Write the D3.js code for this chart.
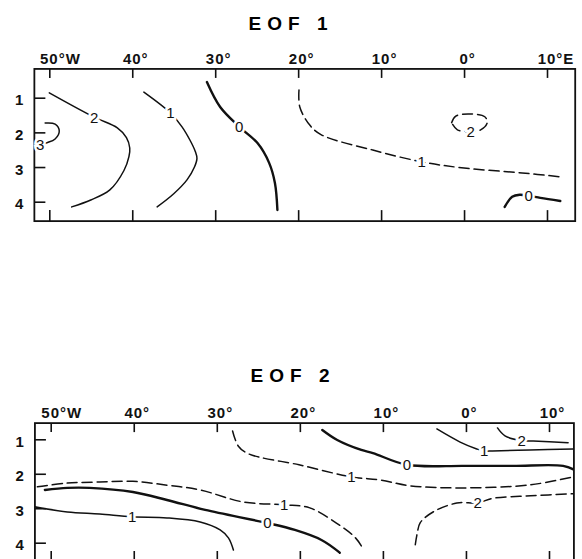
<!DOCTYPE html>
<html><head><meta charset="utf-8">
<script src="https://cdn.jsdelivr.net/npm/d3@7"></script>
<style>
html,body{margin:0;padding:0;background:#fff;}
svg{display:block;}
</style></head>
<body>
<script>
// ---------- data ----------
const LON_TICKS = [-50, -40, -30, -20, -10, 0, 10];
const LON_LABELS_1 = ["50°W", "40°", "30°", "20°", "10°", "0°", "10°E"];
const LON_LABELS_2 = ["50°W", "40°", "30°", "20°", "10°", "0°", "10°"];
const DEPTH_TICKS = [1, 2, 3, 4];
const DEPTH_LABELS = ["1", "2", "3", "4"];

// EOF 1 contours: [longitude (E positive), depth index]
const eof1_c2   = [[-50,0.86],[-44.6,1.56],[-41.8,1.87],[-40.7,2.15],[-40.3,2.45],[-40.4,2.7],[-41.0,3.1],[-42.7,3.66],[-45.0,3.95],[-47.3,4.15]];
const eof1_c3   = [[-50.5,1.73],[-49.3,1.76],[-48.8,1.96],[-49.3,2.19],[-50.3,2.3],[-51.1,2.36]];
const eof1_c1   = [[-38.6,0.84],[-35.4,1.44],[-34.0,1.84],[-33.05,2.22],[-32.4,2.55],[-32.2,2.75],[-32.5,3.0],[-33.4,3.37],[-35.0,3.77],[-37.0,4.15]];
const eof1_c0   = [[-31.0,0.55],[-29.4,1.27],[-27.1,1.84],[-24.9,2.31],[-23.5,2.88],[-22.8,3.46],[-22.5,4.24]];
const eof1_cm1  = [[-19.9,0.78],[-19.8,1.27],[-18.6,1.79],[-17.2,2.07],[-11.0,2.51],[-5.1,2.85],[0,3.03],[7.0,3.17],[11.9,3.29]];
const eof1_cm2  = [[-1.5,1.72],[-1.0,1.53],[0.7,1.47],[2.5,1.55],[2.8,1.72],[2.0,1.93],[0.8,1.97],[-0.8,1.93],[-1.5,1.72]];
const eof1_c0b  = [[4.9,4.15],[5.8,3.86],[6.7,3.80],[7.8,3.83],[9.2,3.89],[11.6,3.98]];

const eof1Values = [2, 3, 1, 0, -1, -2, 0];
const eof1Lines  = [eof1_c2, eof1_c3, eof1_c1, eof1_c0, eof1_cm1, eof1_cm2, eof1_c0b];
const eof1LabelAt = [[-44.6,1.56],[-51.1,2.36],[-35.4,1.44],[-27.1,1.84],[-5.1,2.85],[0.8,1.97],[7.8,3.83]];

// EOF 2 contours
const eof2_c1a  = [[-51.9,2.96],[-48.0,3.11],[-44.1,3.17],[-40.2,3.25],[-36.0,3.28],[-32.0,3.40],[-29.6,3.63],[-28.6,3.86],[-28.0,4.21]];
const eof2_c0a  = [[-50.7,2.47],[-48.0,2.41],[-45.3,2.41],[-40.1,2.53],[-36.0,2.76],[-31.4,3.05],[-23.9,3.43],[-20.6,3.63],[-17.4,3.92],[-15.2,4.29]];
const eof2_cm1a = [[-51.6,2.38],[-48.0,2.27],[-44.1,2.24],[-40.1,2.22],[-36.0,2.33],[-32.0,2.47],[-26.8,2.82],[-21.9,2.90],[-18.8,2.99],[-15.6,3.43],[-13.3,3.86],[-12.3,4.21]];
const eof2_cm1b = [[-28.1,0.76],[-27.4,1.20],[-26.2,1.42],[-20.1,1.74],[-13.8,2.09],[-10.3,2.18],[-6.7,2.35],[-0.3,2.41],[7.8,2.32],[12.9,2.09]];
const eof2_c0b  = [[-17.3,0.73],[-15.5,1.02],[-12.6,1.31],[-11.2,1.40],[-7.1,1.74],[-0.3,1.77],[5.7,1.77],[11.7,1.77],[13.1,1.89]];
const eof2_c1b  = [[-3.5,0.70],[-0.7,1.08],[1.3,1.28],[2.2,1.34],[3.2,1.34],[7.7,1.31],[12.9,1.28]];
const eof2_c2   = [[3.8,0.67],[4.7,0.90],[6.7,1.04],[8.1,1.05],[12.3,1.10]];
const eof2_cm2  = [[-6.1,4.06],[-5.9,3.77],[-5.5,3.42],[-3.9,3.10],[-1.1,2.85],[1.4,2.84],[3.3,2.71],[7.8,2.64],[12.9,2.58]];

const eof2Values = [1, 0, -1, -1, 0, 1, 2, -2];
const eof2Lines  = [eof2_c1a, eof2_c0a, eof2_cm1a, eof2_cm1b, eof2_c0b, eof2_c1b, eof2_c2, eof2_cm2];
const eof2LabelAt = [[-40.2,3.25],[-23.9,3.43],[-21.9,2.90],[-13.8,2.09],[-7.1,1.74],[2.2,1.34],[6.7,1.04],[1.4,2.84]];

// ---------- layout ----------
const W = 582, H = 559;
const FONT = "'Liberation Sans', Arial, sans-serif";
const svg = d3.select("body").append("svg").attr("width", W).attr("height", H);

const panels = [
  { title: "EOF 1", titleX: 291, titleY: 30, xr: [49.3, 547], yr: [97.7, 201.7],
    lonBox: [-51.8, 13.4], depBox: [0.17, 4.56], labels: LON_LABELS_1,
    lines: eof1Lines, values: eof1Values, labelAt: eof1LabelAt, id: "c1" },
  { title: "EOF 2", titleX: 293, titleY: 382, xr: [50.7, 549], yr: [439.3, 542.7],
    lonBox: [-51.9, 13.0], depBox: [0.53, 4.56], labels: LON_LABELS_2,
    lines: eof2Lines, values: eof2Values, labelAt: eof2LabelAt, id: "c2" }
];

panels.forEach(p => {
  const x = d3.scaleLinear().domain([-50, 10]).range(p.xr);
  const y = d3.scaleLinear().domain([1, 4]).range(p.yr);
  const L = x(p.lonBox[0]), R = x(p.lonBox[1]);
  const T = y(p.depBox[0]), B = y(p.depBox[1]);
  const g = svg.append("g");

  g.append("text").attr("x", p.titleX).attr("y", p.titleY)
    .attr("text-anchor", "middle").attr("font-family", FONT)
    .attr("font-size", 19).attr("font-weight", "bold")
    .attr("letter-spacing", 6).style("white-space", "pre")
    .text(p.title);

  g.append("clipPath").attr("id", p.id).append("rect")
    .attr("x", L).attr("y", T).attr("width", R - L).attr("height", B - T);

  // axes
  const top = g.append("g").attr("transform", `translate(0,${T})`)
    .call(d3.axisTop(x).tickValues(LON_TICKS).tickSize(-9).tickFormat(""));
  const bot = g.append("g").attr("transform", `translate(0,${B})`)
    .call(d3.axisBottom(x).tickValues(LON_TICKS).tickSize(-11).tickFormat(""));
  const left = g.append("g").attr("transform", `translate(${L},0)`)
    .call(d3.axisLeft(y).tickValues(DEPTH_TICKS).tickSize(-11).tickPadding(11)
      .tickFormat((d, i) => DEPTH_LABELS[i]));
  [top, bot, left].forEach(a => {
    a.select(".domain").remove();
    a.selectAll("line").attr("stroke", "#111").attr("stroke-width", 1.6);
  });
  left.selectAll("text").attr("font-family", FONT).attr("font-size", 15)
    .attr("font-weight", "bold").attr("fill", "#111").attr("dy", "0.47em");

  // top labels: number centered on tick, suffix hanging right
  LON_TICKS.forEach((t, i) => {
    const lab = p.labels[i];
    const m = lab.match(/^(\d+)(.*)$/);
    const tx = g.append("text").attr("y", T - 5).attr("font-family", FONT)
      .attr("font-size", 15).attr("font-weight", "bold").attr("fill", "#111")
      .attr("letter-spacing", 1);
    const num = tx.append("tspan").text(m[1]);
    tx.append("tspan").text(m[2]);
    const nw = num.node().getComputedTextLength();
    tx.attr("x", x(t) - nw / 2);
  });

  // box
  g.append("rect").attr("x", L).attr("y", T).attr("width", R - L).attr("height", B - T)
    .attr("fill", "none").attr("stroke", "#111").attr("stroke-width", 1.8);

  // contours
  const line = d3.line().x(d => x(d[0])).y(d => y(d[1])).curve(d3.curveCatmullRom.alpha(0.5));
  const cg = g.append("g").attr("clip-path", `url(#${p.id})`);
  p.lines.forEach((pts, i) => {
    const v = p.values[i];
    cg.append("path").attr("d", line(pts)).attr("fill", "none").attr("stroke", "#111")
      .attr("stroke-width", v === 0 ? 2.4 : 1.5)
      .attr("stroke-dasharray", v < 0 ? "10,5" : null)
      .attr("stroke-linecap", "round");
  });
  p.labelAt.forEach((pt, i) => {
    g.append("text").attr("x", x(pt[0])).attr("y", y(pt[1])).attr("dy", "0.36em")
      .attr("text-anchor", "middle").attr("font-family", FONT).attr("font-size", 15)
      .attr("fill", "#111").attr("stroke", "#fff").attr("stroke-width", 5)
      .attr("paint-order", "stroke")
      .text(String(Math.abs(p.values[i])));
  });
});
</script>
</body></html>
